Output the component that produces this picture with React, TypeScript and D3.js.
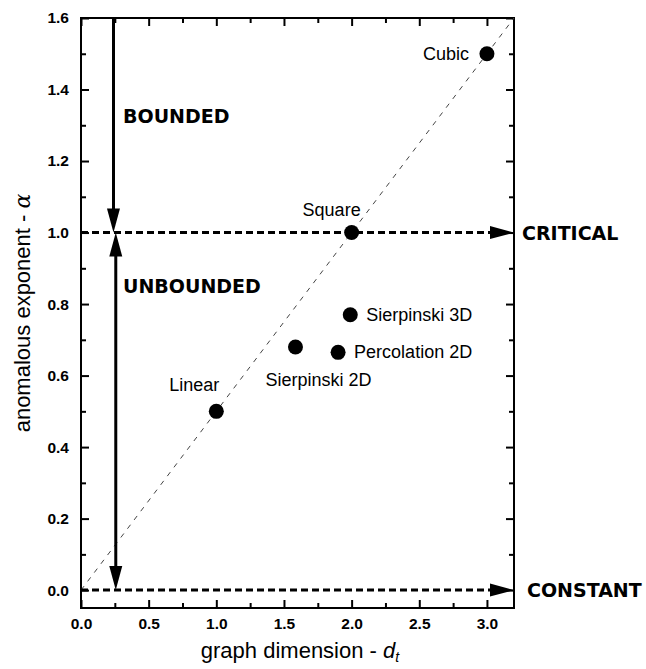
import { useEffect, useRef } from 'react'
import * as d3 from 'd3'

// data
const pointNames = ['Linear', 'Square', 'Cubic', 'Sierpinski 2D', 'Percolation 2D', 'Sierpinski 3D']
const graphDimension = [1.0, 2.0, 3.0, 1.585, 1.9, 1.99]
const anomalousExponent = [0.5, 1.0, 1.5, 0.68, 0.665, 0.77]

const xMajorTicks = [0, 0.5, 1.0, 1.5, 2.0, 2.5, 3.0]
const xMinorTicks = [0.25, 0.75, 1.25, 1.75, 2.25, 2.75]
const yMajorTicks = [0, 0.2, 0.4, 0.6, 0.8, 1.0, 1.2, 1.4, 1.6]
const yMinorTicks = [0.1, 0.3, 0.5, 0.7, 0.9, 1.1, 1.3, 1.5]

const regimeLines = [1.0, 0.0]
const regimeNames = ['CRITICAL', 'CONSTANT']
const boundedX = 0.24
const unboundedX = 0.257

// where each point label sits relative to its dot (px)
const labelPlace: Record<string, { anchor: string; dx: number; dy: number }> = {
  Linear: { anchor: 'middle', dx: -22, dy: -20 },
  Square: { anchor: 'middle', dx: -20, dy: -17 },
  Cubic: { anchor: 'end', dx: -18, dy: 6 },
  'Sierpinski 2D': { anchor: 'start', dx: -30, dy: 39 },
  'Percolation 2D': { anchor: 'start', dx: 16, dy: 6 },
  'Sierpinski 3D': { anchor: 'start', dx: 16, dy: 6 },
}

export default function App() {
  const svgRef = useRef<SVGSVGElement>(null)

  useEffect(() => {
    if (!svgRef.current) return
    const svg = d3.select(svgRef.current)
    svg.selectAll('*').remove()

    const W = 646, H = 669
    const left = 81, right = 514, top = 18, bottom = 608
    const font = '"Liberation Sans", Arial, sans-serif'
    const heavy = '"DejaVu Sans", sans-serif'

    const x = d3.scaleLinear().domain([0, 3.2]).range([left, right])
    const y = d3.scaleLinear().domain([-0.05, 1.6]).range([bottom, top])

    svg.attr('width', W).attr('height', H).attr('viewBox', `0 0 ${W} ${H}`)
    svg.append('rect').attr('width', W).attr('height', H).attr('fill', 'white')

    // axes with inward ticks
    const styleAxis = (g: any, labels: boolean) => {
      g.select('.domain').remove()
      g.selectAll('line').attr('stroke', '#000').attr('stroke-width', 2)
      g.selectAll('text')
        .attr('font-family', font)
        .attr('font-size', 15.5)
        .attr('font-weight', 'bold')
        .attr('fill', '#000')
        .style('display', labels ? null : 'none')
    }
    const fmt = d3.format('.1f')

    svg.append('g').attr('transform', `translate(0,${bottom})`)
      .call(d3.axisBottom(x).tickValues(xMajorTicks).tickSize(-8).tickPadding(10).tickFormat((d: any) => fmt(d)))
      .call((g: any) => styleAxis(g, true))
    svg.append('g').attr('transform', `translate(0,${bottom})`)
      .call(d3.axisBottom(x).tickValues(xMinorTicks).tickSize(-5).tickFormat(() => ''))
      .call((g: any) => styleAxis(g, false))
    svg.append('g').attr('transform', `translate(0,${top})`)
      .call(d3.axisTop(x).tickValues(xMajorTicks).tickSize(-8).tickFormat(() => ''))
      .call((g: any) => styleAxis(g, false))
    svg.append('g').attr('transform', `translate(0,${top})`)
      .call(d3.axisTop(x).tickValues(xMinorTicks).tickSize(-5).tickFormat(() => ''))
      .call((g: any) => styleAxis(g, false))

    svg.append('g').attr('transform', `translate(${left},0)`)
      .call(d3.axisLeft(y).tickValues(yMajorTicks).tickSize(-8).tickPadding(12).tickFormat((d: any) => fmt(d)))
      .call((g: any) => styleAxis(g, true))
    svg.append('g').attr('transform', `translate(${left},0)`)
      .call(d3.axisLeft(y).tickValues(yMinorTicks).tickSize(-5).tickFormat(() => ''))
      .call((g: any) => styleAxis(g, false))
    svg.append('g').attr('transform', `translate(${right},0)`)
      .call(d3.axisRight(y).tickValues(yMajorTicks).tickSize(-8).tickFormat(() => ''))
      .call((g: any) => styleAxis(g, false))
    svg.append('g').attr('transform', `translate(${right},0)`)
      .call(d3.axisRight(y).tickValues(yMinorTicks).tickSize(-5).tickFormat(() => ''))
      .call((g: any) => styleAxis(g, false))

    // frame
    svg.append('rect')
      .attr('x', left).attr('y', top)
      .attr('width', right - left).attr('height', bottom - top)
      .attr('fill', 'none').attr('stroke', '#000').attr('stroke-width', 2)

    // alpha = d_t / 2 guide
    svg.append('line')
      .attr('x1', x(0)).attr('y1', y(0))
      .attr('x2', x(3.2)).attr('y2', y(1.6))
      .attr('stroke', '#444').attr('stroke-width', 1)
      .attr('stroke-dasharray', '5,6')

    // dashed regime lines with arrows to the right frame
    const headLen = 24, headHalf = 6.5
    regimeLines.forEach((v, i) => {
      svg.append('line')
        .attr('x1', x(0)).attr('y1', y(v))
        .attr('x2', right - headLen + 2).attr('y2', y(v))
        .attr('stroke', '#000').attr('stroke-width', 3)
        .attr('stroke-dasharray', '7,4')
      svg.append('path')
        .attr('d', `M${right},${y(v)} L${right - headLen},${y(v) - headHalf} L${right - headLen},${y(v) + headHalf} Z`)
        .attr('fill', '#000')
      svg.append('text')
        .attr('x', i === 0 ? right + 8 : right + 13)
        .attr('y', y(v) + 7)
        .attr('font-family', heavy).attr('font-weight', 'bold').attr('font-size', 19)
        .attr('fill', '#000')
        .text(regimeNames[i])
    })

    // vertical arrows
    const vHead = (xv: number, tipV: number, dir: number) => {
      const tx = x(xv), ty = y(tipV)
      const by = ty + dir * 24
      svg.append('path')
        .attr('d', `M${tx},${ty} L${tx - headHalf},${by} L${tx + headHalf},${by} Z`)
        .attr('fill', '#000')
    }
    svg.append('line')
      .attr('x1', x(boundedX)).attr('y1', y(1.6))
      .attr('x2', x(boundedX)).attr('y2', y(1.0) - 20)
      .attr('stroke', '#000').attr('stroke-width', 3)
    vHead(boundedX, 1.0, -1)
    svg.append('line')
      .attr('x1', x(unboundedX)).attr('y1', y(1.0) + 20)
      .attr('x2', x(unboundedX)).attr('y2', y(0) - 20)
      .attr('stroke', '#000').attr('stroke-width', 3)
    vHead(unboundedX, 1.0, 1)
    vHead(unboundedX, 0.0, -1)

    svg.append('text')
      .attr('x', 123).attr('y', 123)
      .attr('font-family', heavy).attr('font-weight', 'bold').attr('font-size', 19)
      .text('BOUNDED')
    svg.append('text')
      .attr('x', 123).attr('y', 293)
      .attr('font-family', heavy).attr('font-weight', 'bold').attr('font-size', 19)
      .text('UNBOUNDED')

    // points
    const pts = pointNames.map((name, i) => ({ name, dt: graphDimension[i], a: anomalousExponent[i] }))
    svg.append('g').selectAll('circle')
      .data(pts)
      .join('circle')
      .attr('cx', (d) => x(d.dt))
      .attr('cy', (d) => y(d.a))
      .attr('r', 7.5)
      .attr('fill', '#000')
    svg.append('g').selectAll('text')
      .data(pts)
      .join('text')
      .attr('x', (d) => x(d.dt) + labelPlace[d.name].dx)
      .attr('y', (d) => y(d.a) + labelPlace[d.name].dy)
      .attr('text-anchor', (d) => labelPlace[d.name].anchor)
      .attr('font-family', font).attr('font-size', 18)
      .attr('fill', '#000')
      .text((d) => d.name)

    // axis titles
    const xt = svg.append('text')
      .attr('x', 300).attr('y', 658)
      .attr('text-anchor', 'middle')
      .attr('font-family', font).attr('font-size', 22)
    xt.append('tspan').text('graph dimension - ')
    xt.append('tspan').attr('font-style', 'italic').text('d')
    xt.append('tspan').attr('font-style', 'italic').attr('font-size', 14).attr('dy', 4).text('t')

    const yt = svg.append('text')
      .attr('transform', `translate(30,${(top + bottom) / 2}) rotate(-90)`)
      .attr('text-anchor', 'middle')
      .attr('font-family', font).attr('font-size', 22)
    yt.append('tspan').text('anomalous exponent - ')
    yt.append('tspan').attr('font-family', '"DejaVu Serif", serif').attr('font-style', 'italic').text('α')
  }, [])

  return <svg ref={svgRef} style={{ position: 'absolute', left: 0, top: 0, display: 'block' }} />
}
